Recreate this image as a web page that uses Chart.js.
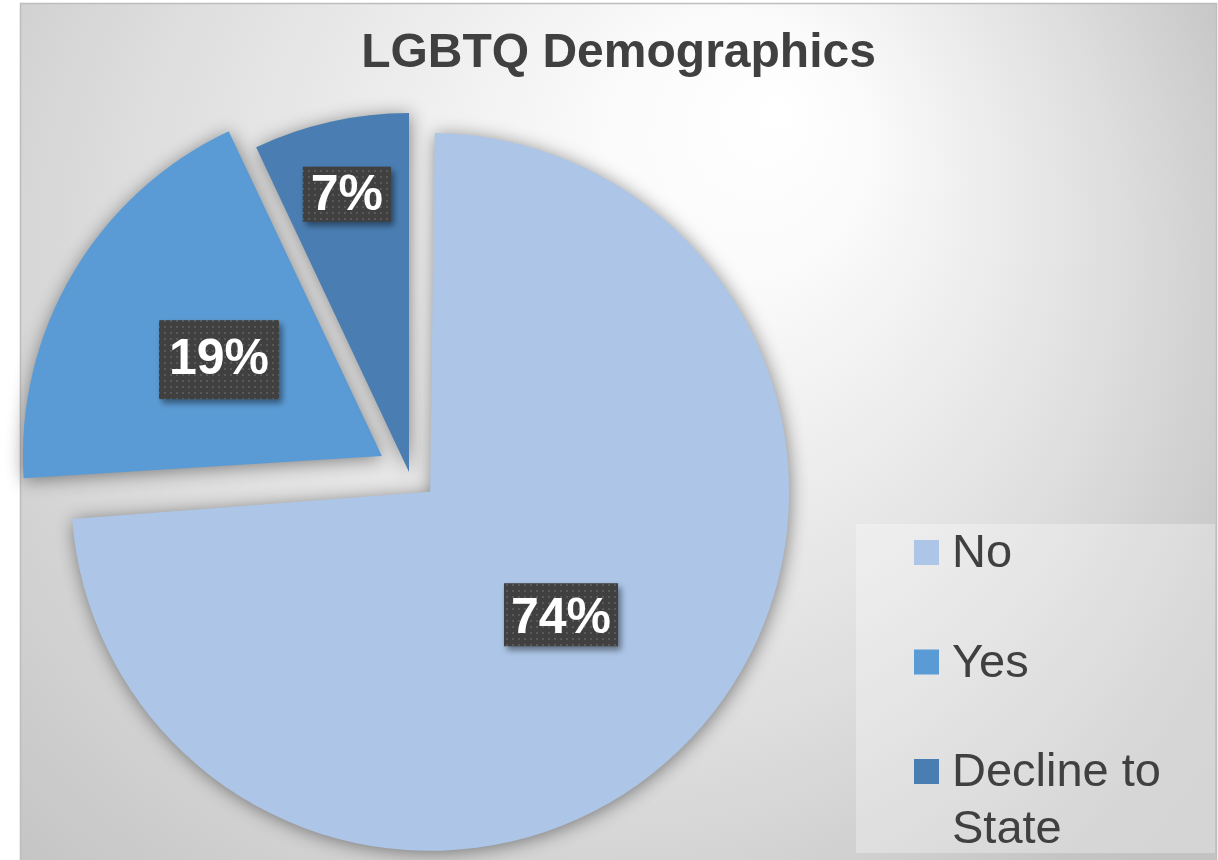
<!DOCTYPE html>
<html>
<head>
<meta charset="utf-8">
<title>LGBTQ Demographics</title>
<script src="https://cdn.jsdelivr.net/npm/chart.js@4.4.1/dist/chart.umd.min.js"></script>
<style>
  html, body { margin: 0; padding: 0; background: #fff; }
  #wrap { width: 1218px; height: 860px; position: relative; }
</style>
</head>
<body>
<div id="wrap"><canvas id="pieChart"></canvas></div>
<script>
const chartTitle = 'LGBTQ Demographics';
const answers = ['No', 'Yes', 'Decline to State'];
const shares = [74, 19, 7];
const sliceColors = ['#adc6e7', '#5b9bd5', '#4a7eb3'];

const FONT = '"Liberation Sans", Arial, sans-serif';
const TEXT_COLOR = '#404040';

// small dotted fill used behind the percentage labels
function dotPattern(ctx) {
    const tile = document.createElement('canvas');
    tile.width = 6;
    tile.height = 6;
    const t = tile.getContext('2d');
    t.fillStyle = '#404040';
    t.fillRect(0, 0, 6, 6);
    t.fillStyle = '#595959';
    t.fillRect(2, 2, 2, 2);
    return ctx.createPattern(tile, 'repeat');
}

// split a legend entry into lines that fit the legend box
function wrapText(ctx, text, maxWidth) {
    const words = text.split(' ');
    const lines = [];
    let line = '';
    for (const w of words) {
        const test = line ? line + ' ' + w : w;
        if (line && ctx.measureText(test).width > maxWidth) {
            lines.push(line);
            line = w;
        } else {
            line = test;
        }
    }
    lines.push(line);
    return lines;
}

/* BACKGROUND, TITLE AND LEGEND BOX */
const framePlugin = {
    id: 'frame',
    beforeDraw(chart) {
        const ctx = chart.ctx;
        const x0 = 20, y0 = 3, x1 = 1217, y1 = 860;
        ctx.save();

        // soft grey gradient, brightest near the top right
        const g = ctx.createRadialGradient(780, 110, 0, 520, 330, 820);
        g.addColorStop(0, '#ffffff');
        g.addColorStop(0.15, '#fbfbfb');
        g.addColorStop(0.4, '#ebebeb');
        g.addColorStop(0.6, '#dedede');
        g.addColorStop(0.78, '#d0d0d0');
        g.addColorStop(0.92, '#c5c5c5');
        g.addColorStop(1, '#c3c3c3');
        ctx.fillStyle = g;
        ctx.fillRect(x0, y0, x1 - x0, y1 - y0);
        ctx.strokeStyle = '#bdbdbd';
        ctx.lineWidth = 1.5;
        ctx.strokeRect(x0 + 0.5, y0 + 0.5, x1 - x0 - 1, y1 - y0 + 4);

        // title
        ctx.fillStyle = TEXT_COLOR;
        ctx.font = 'bold 48px ' + FONT;
        ctx.textAlign = 'center';
        ctx.textBaseline = 'alphabetic';
        ctx.fillText(chartTitle, (x0 + x1) / 2, 67);

        // legend box
        const box = { left: 856, top: 524, right: 1215, bottom: 853 };
        ctx.fillStyle = 'rgba(255, 255, 255, 0.3)';
        ctx.fillRect(box.left, box.top, box.right - box.left, box.bottom - box.top);

        const colors = chart.data.datasets[0].backgroundColor;
        ctx.font = '47px ' + FONT;
        ctx.textAlign = 'left';
        const swatch = 25;
        const textX = box.left + 96;
        chart.data.labels.forEach((label, i) => {
            const top = box.top + 16 + i * 109.5;
            ctx.fillStyle = colors[i];
            ctx.fillRect(box.left + 58, top, swatch, swatch);
            ctx.fillStyle = TEXT_COLOR;
            const lines = wrapText(ctx, label, box.right - textX - 10);
            lines.forEach((line, k) => {
                ctx.fillText(line, textX, top + 27 + k * 57);
            });
        });
        ctx.restore();
    }
};

// chart.js grows an exploded arc by offset / 4 when it covers half the pie or more;
// pull the radius back so all slices stay the same size
const evenRadiusPlugin = {
    id: 'evenRadius',
    afterDatasetsUpdate(chart) {
        const meta = chart.getDatasetMeta(0);
        const r = meta.controller.outerRadius;
        meta.data.forEach(arc => {
            const shift = (arc.options.offset || 0) / 4;
            const fix = 1 - Math.sin(Math.min(Math.PI, arc.circumference));
            arc.outerRadius = r - shift * fix;
        });
    }
};

/* SHADOW UNDER THE SLICES */
const sliceShadowPlugin = {
    id: 'sliceShadow',
    beforeDatasetsDraw(chart) {
        const ctx = chart.ctx;
        ctx.save();
        ctx.shadowColor = 'rgba(0, 0, 0, 0.45)';
        ctx.shadowBlur = 18;
        ctx.shadowOffsetX = 1;
        ctx.shadowOffsetY = 2;
    },
    afterDatasetsDraw(chart) {
        chart.ctx.restore();
    }
};

/* PERCENT LABELS IN DARK BOXES */
let labelFill = null;
const sliceLabelPlugin = {
    id: 'sliceLabels',
    afterDraw(chart, args, opts) {
        const ctx = chart.ctx;
        const meta = chart.getDatasetMeta(0);
        const radius = meta.controller.outerRadius;
        if (!labelFill) labelFill = dotPattern(ctx);

        ctx.save();
        ctx.font = 'bold 50px ' + FONT;
        ctx.textAlign = 'center';
        ctx.textBaseline = 'middle';
        meta.data.forEach((arc, i) => {
            const mid = (arc.startAngle + arc.endAngle) / 2;
            const dist = (arc.options.offset || 0) / 4 + opts.position[i] * radius;
            const cx = arc.x + Math.cos(mid) * dist;
            const cy = arc.y + Math.sin(mid) * dist;
            const text = chart.data.datasets[0].data[i] + '%';
            const w = ctx.measureText(text).width + 2 * opts.padX[i];
            const h = opts.boxHeight[i];

            ctx.save();
            ctx.shadowColor = 'rgba(0, 0, 0, 0.45)';
            ctx.shadowBlur = 6;
            ctx.shadowOffsetX = 3;
            ctx.shadowOffsetY = 4;
            ctx.fillStyle = labelFill;
            ctx.fillRect(cx - w / 2, cy - h / 2, w, h);
            ctx.restore();

            ctx.fillStyle = '#ffffff';
            ctx.fillText(text, cx, cy + opts.textShift[i]);
        });
        ctx.restore();
    }
};

const ctx = document.getElementById('pieChart');

const myChart = new Chart(ctx, {
    type: 'pie',
    data: {
        labels: answers,
        datasets: [{
            data: shares,
            backgroundColor: sliceColors,
            borderWidth: 0,
            offset: [116, 126, 0]
        }]
    },
    options: {
        responsive: true,
        maintainAspectRatio: false,
        animation: false,
        events: [],
        radius: 359,
        layout: {
            padding: { top: 84, right: 400, bottom: 0, left: 0 }
        },
        plugins: {
            legend: { display: false },
            title: { display: false },
            tooltip: { enabled: false },
            sliceLabels: {
                position: [0.5, 0.527, 0.793],
                padX: [7, 10, 8],
                boxHeight: [63, 79, 55],
                textShift: [4, 1, 2]
            }
        }
    },
    plugins: [framePlugin, evenRadiusPlugin, sliceShadowPlugin, sliceLabelPlugin]
});
</script>
</body>
</html>
